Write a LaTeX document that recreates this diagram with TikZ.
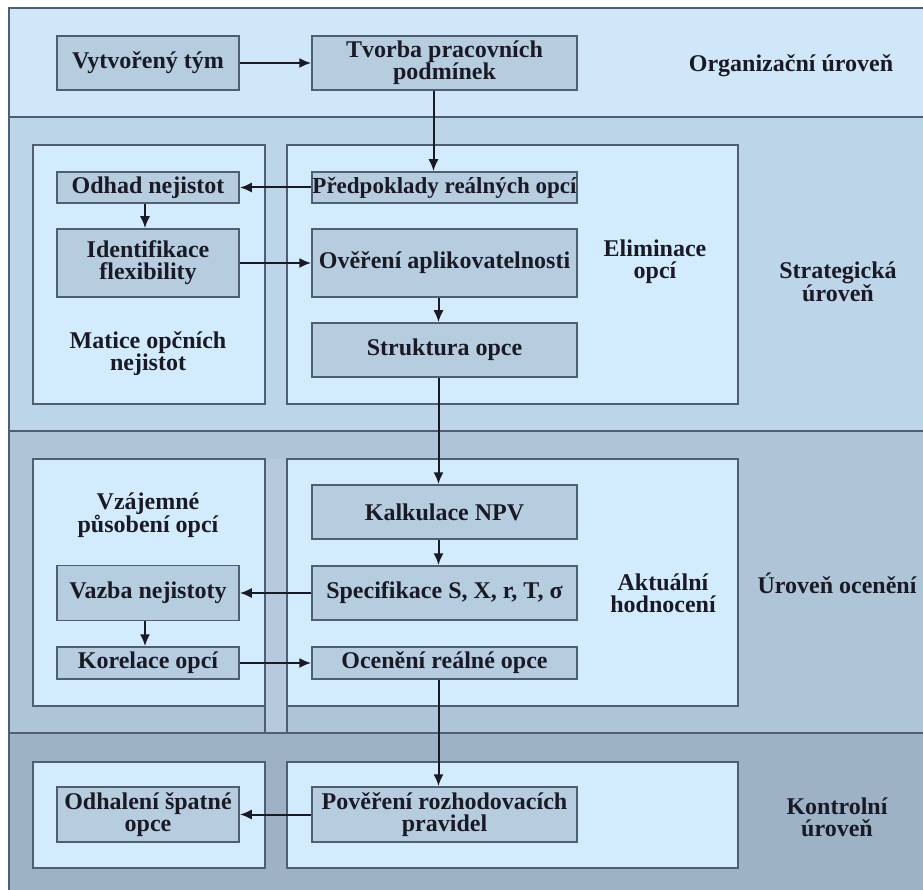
\documentclass[tikz,border=0pt]{standalone}
\usepackage{fontspec}
\setmainfont{Liberation Serif}
\usetikzlibrary{arrows.meta}
\definecolor{orgband}{HTML}{CFE7F9}
\definecolor{stratband}{HTML}{BDD5E9}
\definecolor{valband}{HTML}{AEC4D7}
\definecolor{ctrlband}{HTML}{9DB2C5}
\definecolor{panelfill}{HTML}{D3ECFD}
\definecolor{stripfill}{HTML}{B5CADC}
\definecolor{boxfill}{HTML}{B6CDE0}
\definecolor{edge}{HTML}{4F5F70}
\definecolor{ink}{HTML}{1A1A26}
\begin{document}
\begin{tikzpicture}[x=1pt,y=-1pt,
    frame/.style={draw=edge,line width=1.6pt},
    panel/.style={fill=panelfill,draw=edge,line width=1.6pt},
    stepbox/.style={draw=edge,line width=1.5pt,fill=boxfill,align=center,inner sep=0pt,
      text=ink,font=\bfseries\fontsize{24}{22}\selectfont},
    heading/.style={align=center,inner sep=0pt,text=ink,font=\bfseries\fontsize{24}{22}\selectfont},
    link/.style={draw=ink,line width=2pt,-{Latex[length=12pt,width=10pt]}}]
    \useasboundingbox (0,0) rectangle (923,890);
    \fill[orgband] (9,8) rectangle (923,117);
    \fill[stratband] (9,117) rectangle (923,431);
    \fill[valband] (9,431) rectangle (923,733);
    \fill[ctrlband] (9,733) rectangle (923,890);
    \fill[stripfill] (265,459) rectangle (287,733);
    \draw[frame] (9,890) -- (9,8) -- (923,8);
    \draw[frame] (9,117) -- (923,117);
    \draw[frame] (9,431) -- (923,431);
    \draw[frame] (9,733) -- (923,733);
    \draw[frame] (265,706) -- (265,733);
    \draw[frame] (287,706) -- (287,733);
    \draw[panel] (33,145) rectangle (265,404);
    \draw[panel] (287,145) rectangle (738,404);
    \draw[panel] (33,459) rectangle (265,706);
    \draw[panel] (287,459) rectangle (738,706);
    \draw[panel] (33,762) rectangle (265,868);
    \draw[panel] (287,762) rectangle (738,868);
    \node[stepbox,minimum width=182pt,minimum height=54pt] (tym) at (148,63) {Vytvořený tým};
    \node[stepbox,minimum width=265pt,minimum height=54pt] (tvorba) at (444.5,63) {Tvorba pracovních\\podmínek};
    \node[stepbox,minimum width=265pt,minimum height=31pt,font=\bfseries\fontsize{23}{22}\selectfont] (predpoklady) at (444.5,187.5) {Předpoklady reálných opcí};
    \node[stepbox,minimum width=182pt,minimum height=31pt] (odhad) at (148,187.5) {Odhad nejistot};
    \node[stepbox,minimum width=182pt,minimum height=68pt] (ident) at (148,263) {Identifikace\\flexibility};
    \node[stepbox,minimum width=265pt,minimum height=68pt] (overeni) at (444.5,263) {Ověření aplikovatelnosti};
    \node[stepbox,minimum width=265pt,minimum height=54pt] (struktura) at (444.5,350) {Struktura opce};
    \node[stepbox,minimum width=265pt,minimum height=54pt] (kalkulace) at (444.5,512) {Kalkulace NPV};
    \node[stepbox,minimum width=265pt,minimum height=54pt] (specifikace) at (444.5,593) {Specifikace S, X, r, T, σ};
    \node[stepbox,minimum width=182pt,minimum height=55pt] (vazba) at (148,593) {Vazba nejistoty};
    \node[stepbox,minimum width=182pt,minimum height=32pt] (korelace) at (148,663) {Korelace opcí};
    \node[stepbox,minimum width=265pt,minimum height=32pt] (oceneni) at (444.5,663) {Ocenění reálné opce};
    \node[stepbox,minimum width=182pt,minimum height=55pt] (odhaleni) at (148,814.5) {Odhalení špatné\\opce};
    \node[stepbox,minimum width=265pt,minimum height=55pt] (povereni) at (444.5,814.5) {Pověření rozhodovacích\\pravidel};
    \node[heading] (organizacni) at (791,66) {Organizační úroveň};
    \node[heading] (strategicka) at (838,282) {Strategická\\úroveň};
    \node[heading] (eliminace) at (655,262) {Eliminace\\opcí};
    \node[heading] (matice) at (148,354) {Matice opčních\\nejistot};
    \node[heading] (vzajemne) at (148,515) {Vzájemné\\působení opcí};
    \node[heading] (aktualni) at (663,593) {Aktuální\\hodnocení};
    \node[heading] (oceneniuroven) at (837,583) {Úroveň ocenění};
    \node[heading] (kontrolni) at (837,817) {Kontrolní\\úroveň};
    \draw[link] (tym) -- (tvorba);
    \draw[link] ([xshift=-11pt]tvorba.south) -- ([xshift=-11pt]predpoklady.north);
    \draw[link] (predpoklady) -- (odhad);
    \draw[link] ([xshift=-3pt]odhad.south) -- ([xshift=-3pt]ident.north);
    \draw[link] (ident) -- (overeni);
    \draw[link] ([xshift=-6pt]overeni.south) -- ([xshift=-6pt]struktura.north);
    \draw[link] ([xshift=-6pt]struktura.south) -- ([xshift=-6pt]kalkulace.north);
    \draw[link] ([xshift=-6pt]kalkulace.south) -- ([xshift=-6pt]specifikace.north);
    \draw[link] (specifikace) -- (vazba);
    \draw[link] ([xshift=-3pt]vazba.south) -- ([xshift=-3pt]korelace.north);
    \draw[link] (korelace) -- (oceneni);
    \draw[link] ([xshift=-6pt]oceneni.south) -- ([xshift=-6pt]povereni.north);
    \draw[link] (povereni) -- (odhaleni);
\end{tikzpicture}
\end{document}
